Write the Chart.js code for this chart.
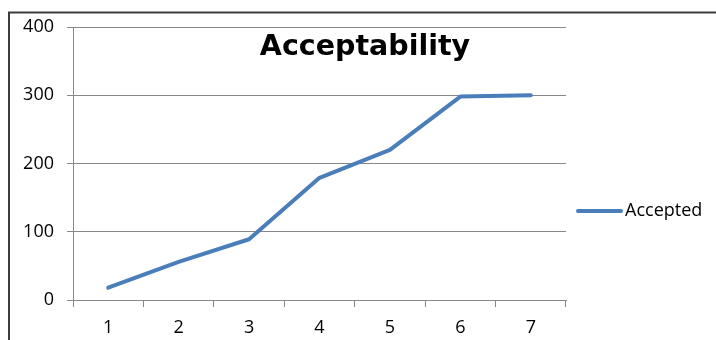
<!DOCTYPE html>
<html>
<head>
<meta charset="utf-8">
<script src="https://cdn.jsdelivr.net/npm/chart.js@4/dist/chart.umd.min.js"></script>
<style>
  html, body { margin: 0; padding: 0; background: #ffffff; }
  #wrap { width: 716px; height: 340px; position: relative; }
</style>
</head>
<body>
<div id="wrap"><canvas id="c" width="716" height="340"></canvas></div>
<script>
// Acceptability figures per step
const categories = ['1', '2', '3', '4', '5', '6', '7'];
const acceptedValues = [18, 56, 89, 179, 220, 298, 300];
const seriesName = 'Accepted';
const chartTitle = 'Acceptability';
const yTicks = [0, 100, 200, 300, 400];

const lineColor = '#4a7ebb';
const gridColor = '#888888';
const textColor = '#000000';
const labelFont = { family: "'Open Sans', sans-serif", size: 18 };

// Frame, title and legend are painted around the plot
const decorations = {
  id: 'decorations',
  beforeDraw(chart) {
    const ctx = chart.ctx;
    ctx.save();
    ctx.fillStyle = '#ffffff';
    ctx.fillRect(0, 0, chart.width, chart.height);
    ctx.strokeStyle = '#3c3c3c';
    ctx.lineWidth = 2;
    ctx.beginPath();
    ctx.moveTo(9, chart.height);
    ctx.lineTo(9, 12.5);
    ctx.lineTo(chart.width, 12.5);
    ctx.stroke();
    ctx.restore();
  },
  afterDraw(chart) {
    const ctx = chart.ctx;
    ctx.save();
    // title
    ctx.fillStyle = '#000000';
    ctx.font = "bold 28.5px 'DejaVu Sans', sans-serif";
    ctx.textAlign = 'center';
    ctx.textBaseline = 'alphabetic';
    ctx.fillText(chartTitle, 365, 55);
    // legend
    const ds = chart.data.datasets[0];
    const ly = 211;
    ctx.strokeStyle = ds.borderColor;
    ctx.lineWidth = ds.borderWidth;
    ctx.lineCap = 'round';
    ctx.beginPath();
    ctx.moveTo(578, ly);
    ctx.lineTo(621, ly);
    ctx.stroke();
    ctx.fillStyle = textColor;
    ctx.font = "18px 'Open Sans', sans-serif";
    ctx.textAlign = 'left';
    ctx.textBaseline = 'middle';
    ctx.fillText(ds.label, 625, ly);
    ctx.restore();
  }
};

new Chart(document.getElementById('c'), {
  type: 'line',
  data: {
    labels: categories,
    datasets: [{
      label: seriesName,
      data: acceptedValues,
      borderColor: lineColor,
      backgroundColor: lineColor,
      borderWidth: 4,
      pointRadius: 0,
      tension: 0,
      borderCapStyle: 'round',
      borderJoinStyle: 'round'
    }]
  },
  options: {
    responsive: false,
    animation: false,
    devicePixelRatio: 1,
    layout: { padding: { left: 9, right: 150, top: 27, bottom: 0 } },
    plugins: {
      legend: { display: false },
      title: { display: false },
      tooltip: { enabled: false }
    },
    scales: {
      x: {
        type: 'category',
        offset: true,
        grid: {
          offset: true,
          drawOnChartArea: false,
          drawTicks: true,
          tickLength: 7,
          color: gridColor,
          lineWidth: 1
        },
        border: { display: true, color: gridColor, width: 1 },
        ticks: { color: textColor, font: labelFont, padding: 10, maxRotation: 0 },
        afterFit(scale) { scale.height = 40; }
      },
      y: {
        min: 0,
        max: 400,
        afterBuildTicks(scale) { scale.ticks = yTicks.map(v => ({ value: v })); },
        grid: {
          drawTicks: true,
          tickLength: 6,
          color: gridColor,
          lineWidth: 1
        },
        border: { display: true, color: gridColor, width: 1 },
        ticks: { color: textColor, font: labelFont, padding: 13 },
        afterFit(scale) { scale.width = 64; }
      }
    }
  },
  plugins: [decorations]
});
</script>
</body>
</html>
